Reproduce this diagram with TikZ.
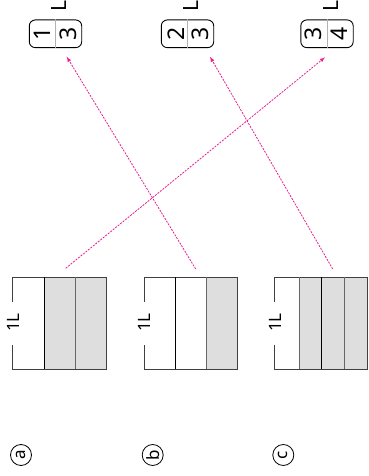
\documentclass[tikz,border=0pt]{standalone}
\usepackage{fontspec}
\newfontfamily\noto{Noto Sans}
\makeatletter
\tikzset{
  rawstroke/.code args={#1/#2/#3}{\pgfsys@color@rgb@stroke{#1}{#2}{#3}},
  rawfill/.code args={#1/#2/#3}{\pgfsys@color@rgb@fill{#1}{#2}{#3}}
}
\makeatother
\begin{document}
\begin{tikzpicture}[x=1pt,y=1pt,
  outline/.style={rawstroke=0.25/0.25/0.25,line width=0.9pt},
  sepblack/.style={rawstroke=0/0/0,line width=0.9pt},
  sepgray/.style={rawstroke=0.4/0.4/0.4,line width=0.9pt},
  shadefill/.style={rawfill=0.87/0.87/0.87},
  fracbox/.style={draw,rounded corners=6pt,line width=0.9pt,minimum width=52.4pt,minimum height=27.7pt,inner sep=0pt},
  fracdiv/.style={rawstroke=0.7/0.7/0.7,line width=0.8pt},
  arr/.style={rawstroke=0.91/0.12/0.55,rawfill=0.91/0.12/0.55,line width=0.8pt,dash pattern=on 2pt off 1.2pt,-latex}
]
\useasboundingbox (0,0) rectangle (368,476);

% ---- texts first ----
\node[rotate=90,inner sep=0pt,font=\noto\fontsize{17}{17}\selectfont] (la) at (13.5,153.5) {1L};
\node[rotate=90,inner sep=0pt,font=\noto\fontsize{17}{17}\selectfont] (lb) at (144.5,153.5) {1L};
\node[rotate=90,inner sep=0pt,font=\noto\fontsize{17}{17}\selectfont] (lc) at (275.2,153.5) {1L};

\node[rotate=90,circle,draw,line width=0.8pt,minimum size=21pt,inner sep=0pt,font=\noto\fontsize{17}{17}\selectfont] (ca) at (21,21) {a};
\node[rotate=90,circle,draw,line width=0.8pt,minimum size=21pt,inner sep=0pt,font=\noto\fontsize{17}{17}\selectfont] (cb) at (152.7,21) {b};
\node[rotate=90,circle,draw,line width=0.8pt,minimum size=21pt,inner sep=0pt,font=\noto\fontsize{17}{17}\selectfont] (cc) at (283.3,21) {c};

\node[rotate=90,inner sep=0pt,font=\noto\fontsize{23}{23}\selectfont] (n1) at (42.2,442.2) {1};
\node[rotate=90,inner sep=0pt,font=\noto\fontsize{23}{23}\selectfont] (d1) at (68.3,442.2) {3};
\node[rotate=90,inner sep=0pt,font=\noto\fontsize{21}{21}\selectfont] (u1) at (59.5,470) {L};
\node[rotate=90,inner sep=0pt,font=\noto\fontsize{23}{23}\selectfont] (n2) at (175.8,442.2) {2};
\node[rotate=90,inner sep=0pt,font=\noto\fontsize{23}{23}\selectfont] (d2) at (200.6,442.2) {3};
\node[rotate=90,inner sep=0pt,font=\noto\fontsize{21}{21}\selectfont] (u2) at (191.3,470) {L};
\node[rotate=90,inner sep=0pt,font=\noto\fontsize{23}{23}\selectfont] (n3) at (313.7,442.2) {3};
\node[rotate=90,inner sep=0pt,font=\noto\fontsize{23}{23}\selectfont] (d3) at (339,442.2) {4};
\node[rotate=90,inner sep=0pt,font=\noto\fontsize{21}{21}\selectfont] (u3) at (330.5,470) {L};

% ---- fraction boxes ----
\node[fracbox] (f1) at (55.5,442.2) {};
\node[fracbox] (f2) at (187.5,442.2) {};
\node[fracbox] (f3) at (327,442.2) {};
\draw[fracdiv] (f1.north) -- (f1.south);
\draw[fracdiv] (f2.north) -- (f2.south);
\draw[fracdiv] (f3.north) -- (f3.south);

% container (a)
\fill[shadefill] (44.3,198.7) rectangle (106.7,107);
\draw[outline] (12.7,174.3) -- (12.7,198.7) -- (106.7,198.7) -- (106.7,107) -- (12.7,107) -- (12.7,131);
\draw[sepblack] (44.3,198.7) -- (44.3,107);
\draw[sepgray] (75.3,198.7) -- (75.3,107);

% container (b)
\fill[shadefill] (206.3,198.7) rectangle (237.3,107);
\draw[outline] (144,174.3) -- (144,198.7) -- (237.3,198.7) -- (237.3,107) -- (144,107) -- (144,131);
\draw[sepblack] (175.3,198.7) -- (175.3,107);
\draw[sepgray] (206.3,198.7) -- (206.3,107);

% container (c)
\fill[shadefill] (299,198.7) rectangle (367.3,107);
\draw[outline] (274.7,174.3) -- (274.7,198.7) -- (367.3,198.7) -- (367.3,107) -- (274.7,107) -- (274.7,131);
\draw[sepgray] (299,198.7) -- (299,107);
\draw[sepblack] (321.7,198.7) -- (321.7,107);
\draw[sepgray] (344,198.7) -- (344,107);

% arrows
\coordinate (sa) at (65.7,207.7);
\coordinate (sb) at (195.7,207);
\coordinate (sc) at (332.7,207);
\coordinate (ta) at (325,418.7);
\coordinate (tb) at (66.7,419.3);
\coordinate (tc) at (210,419.3);
\draw[arr] (sa) -- (ta);
\draw[arr] (sb) -- (tb);
\draw[arr] (sc) -- (tc);
\end{tikzpicture}
\end{document}
